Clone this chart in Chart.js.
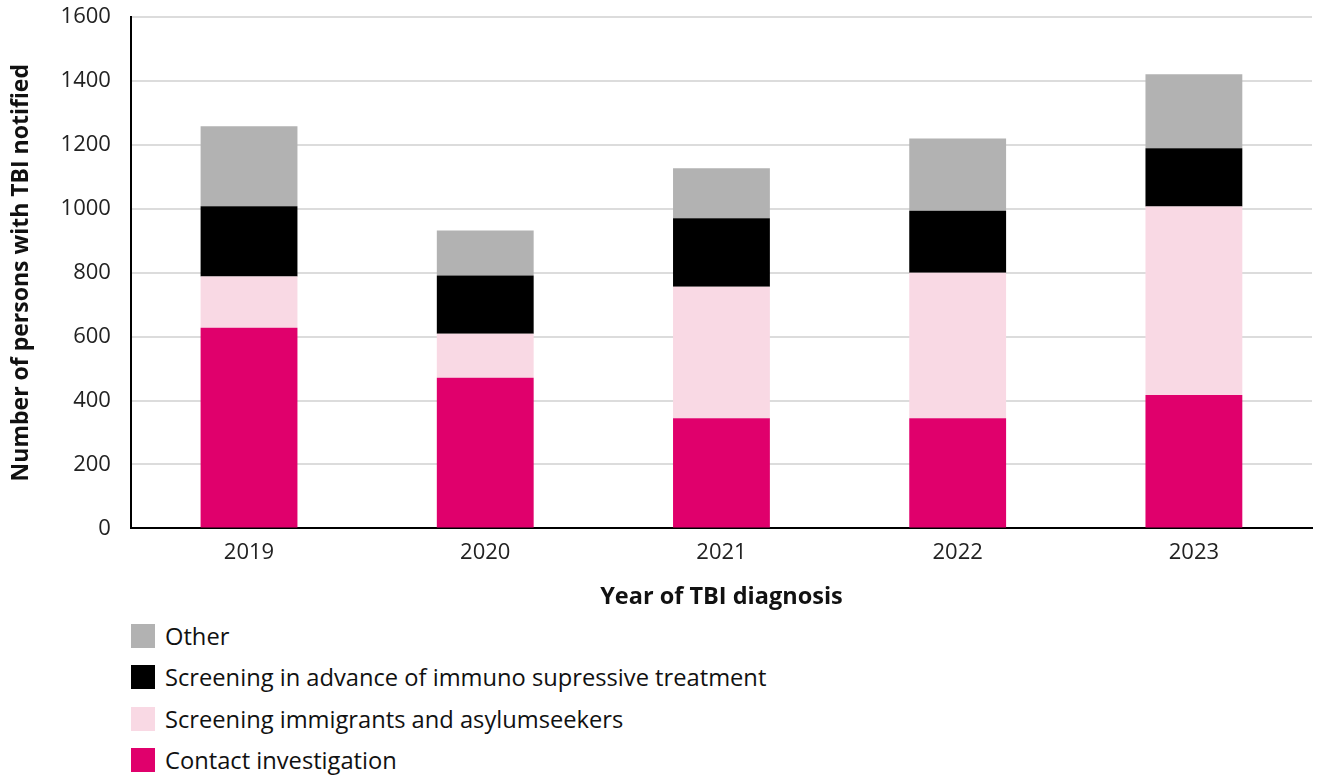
<!DOCTYPE html>
<html>
<head>
<meta charset="utf-8">
<script src="https://cdn.jsdelivr.net/npm/chart.js@4"></script>
<style>
body { margin: 0; background: #fff; font-family: "Open Sans", sans-serif; }
#wrap { position: relative; width: 1331px; height: 615px; }
#legend { margin: 0; padding: 0 0 0 131px; list-style: none; }
#legend li { display: flex; align-items: center; height: 41.5px; font-size: 23.7px; color: #111; }
#legend span.box { width: 24px; height: 24px; margin-right: 10px; display: inline-block; }
</style>
</head>
<body>
<div id="wrap"><canvas id="canvas1"></canvas></div>
<ul id="legend"></ul>
<script>
var years = ["2019", "2020", "2021", "2022", "2023"];
var contactInvestigation = [628, 471, 345, 345, 417];
var screeningImmigrants = [160, 138, 411, 455, 590];
var screeningImmuno = [220, 182, 214, 194, 182];
var other = [250, 141, 157, 226, 232];
var yTicks = [0, 200, 400, 600, 800, 1000, 1200, 1400, 1600];

function cargar() {
var ctx = document.getElementById('canvas1').getContext('2d');

var datasets = [
    { label: 'Contact investigation', data: contactInvestigation, backgroundColor: '#e0006c' },
    { label: 'Screening immigrants and asylumseekers', data: screeningImmigrants, backgroundColor: '#f9d9e4' },
    { label: 'Screening in advance of immuno supressive treatment', data: screeningImmuno, backgroundColor: '#000000' },
    { label: 'Other', data: other, backgroundColor: '#b2b2b2' }
];

const myChart = new Chart(ctx, {
    type: 'bar',
    data: { labels: years, datasets: datasets },
    options: {
        responsive: true,
        maintainAspectRatio: false,
        animation: false,
        layout: { padding: { top: 17, right: 19, left: 4 } },
        datasets: { bar: { barPercentage: 0.41, categoryPercentage: 1 } },
        plugins: { legend: { display: false }, tooltip: { enabled: false } },
        scales: {
            x: {
                stacked: true,
                grid: { display: false },
                border: { color: '#000', width: 2 },
                ticks: { color: '#222', font: { family: 'Open Sans', size: 22 }, padding: 3 },
                title: {
                    display: true, text: 'Year of TBI diagnosis', color: '#111',
                    font: { family: 'Open Sans', size: 23.5, weight: 'bold' }, padding: { top: 14 }
                }
            },
            y: {
                stacked: true,
                min: 0, max: 1600,
                afterBuildTicks: function (axis) { axis.ticks = yTicks.map(function (v) { return { value: v }; }); },
                afterFit: function (scale) { scale.paddingTop = 0; },
                grid: { color: '#dcdcdc', lineWidth: 2, drawTicks: false },
                border: { color: '#000', width: 2 },
                ticks: {
                    color: '#222', font: { family: 'Open Sans', size: 22 }, padding: 20,
                    callback: function (v) { return String(v); }
                },
                title: {
                    display: true, text: 'Number of persons with TBI notified', color: '#111',
                    font: { family: 'Open Sans', size: 23, weight: 'bold' }, padding: { bottom: 5 }
                }
            }
        }
    }
});

var ul = document.getElementById('legend');
myChart.data.datasets.slice().reverse().forEach(function (ds) {
    var li = document.createElement('li');
    var box = document.createElement('span');
    box.className = 'box';
    box.style.background = ds.backgroundColor;
    li.appendChild(box);
    li.appendChild(document.createTextNode(ds.label));
    ul.appendChild(li);
});
}

document.addEventListener('DOMContentLoaded', cargar);
</script>
</body>
</html>
